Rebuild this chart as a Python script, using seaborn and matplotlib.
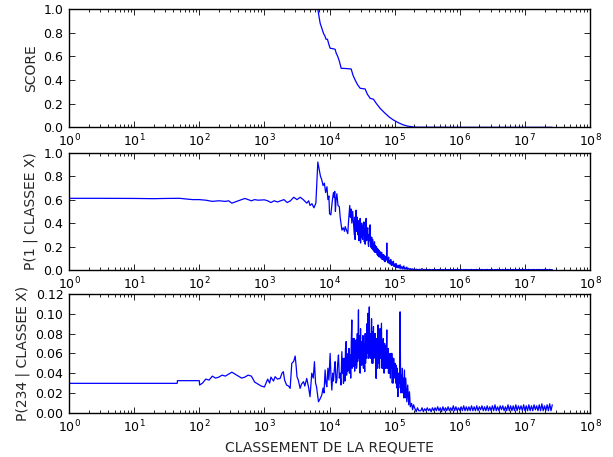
import numpy as np
import pandas as pd
import matplotlib
matplotlib.use("Agg")
import matplotlib.pyplot as plt
import matplotlib.ticker as mticker
import seaborn as sns

# ---------------- data: (log10 of the rank, value) ----------------
score_pts = [(3.78, 1.1), (3.82, 1.0), (3.84, 0.93), (3.856, 0.879), (3.88, 0.84),
             (3.907, 0.794), (3.93, 0.77), (3.945, 0.745), (3.968, 0.744), (3.99, 0.70),
             (4.009, 0.668), (4.05, 0.665), (4.086, 0.659), (4.10, 0.63), (4.127, 0.597),
             (4.15, 0.56), (4.178, 0.499), (4.25, 0.497), (4.332, 0.493), (4.36, 0.44),
             (4.393, 0.40), (4.43, 0.36), (4.47, 0.33), (4.547, 0.324), (4.58, 0.28),
             (4.624, 0.245), (4.675, 0.237), (4.72, 0.20), (4.777, 0.16), (4.85, 0.12),
             (4.92, 0.085), (4.98, 0.062), (5.06, 0.038), (5.135, 0.02), (5.2, 0.01),
             (5.289, 0.003), (5.35, 0.001), (6.0, 0.0), (7.0, 0.0), (7.42, 0.0)]

p1_head = [(0.0, 0.611), (0.5, 0.611), (1.0, 0.61), (1.3, 0.608), (1.5, 0.61),
           (1.7, 0.611), (1.8, 0.605), (1.9, 0.60), (2.0, 0.60), (2.1, 0.595),
           (2.2, 0.585), (2.3, 0.59), (2.4, 0.585), (2.45, 0.59), (2.5, 0.57),
           (2.55, 0.58), (2.6, 0.59), (2.7, 0.61), (2.75, 0.60), (2.8, 0.59),
           (2.85, 0.60), (2.9, 0.595), (3.0, 0.598), (3.05, 0.59), (3.1, 0.575),
           (3.15, 0.59), (3.2, 0.58), (3.25, 0.59), (3.3, 0.60), (3.35, 0.575),
           (3.4, 0.59), (3.45, 0.62), (3.5, 0.60), (3.55, 0.62), (3.6, 0.598),
           (3.65, 0.57), (3.68, 0.59), (3.7, 0.55), (3.73, 0.565), (3.76, 0.53),
           (3.79, 0.57), (3.82, 0.92), (3.86, 0.80), (3.88, 0.77), (3.9, 0.72),
           (3.92, 0.74), (3.94, 0.66), (3.96, 0.71), (3.975, 0.60), (3.99, 0.63),
           (4.0, 0.48), (4.02, 0.47), (4.04, 0.58), (4.06, 0.66), (4.07, 0.62),
           (4.08, 0.67), (4.09, 0.50), (4.10, 0.60), (4.112, 0.65), (4.13, 0.55),
           (4.15, 0.54), (4.163, 0.45), (4.19, 0.34), (4.21, 0.36), (4.23, 0.33),
           (4.24, 0.37), (4.26, 0.34), (4.28, 0.31), (4.29, 0.40), (4.31, 0.55),
           (4.32, 0.45), (4.33, 0.52), (4.342, 0.40), (4.355, 0.50), (4.367, 0.41)]
p1_dense = [(4.380, 0.30), (4.386, 0.45), (4.392, 0.26), (4.400, 0.40), (4.408, 0.51),
            (4.414, 0.33), (4.420, 0.35), (4.427, 0.45), (4.434, 0.30), (4.440, 0.42),
            (4.446, 0.37), (4.452, 0.25), (4.458, 0.38), (4.464, 0.30), (4.470, 0.44),
            (4.476, 0.23), (4.482, 0.36), (4.488, 0.28), (4.494, 0.40), (4.500, 0.33),
            (4.507, 0.26), (4.513, 0.38), (4.520, 0.30), (4.527, 0.41), (4.534, 0.24),
            (4.540, 0.35), (4.547, 0.22), (4.555, 0.36), (4.562, 0.44), (4.568, 0.25),
            (4.575, 0.27), (4.581, 0.34), (4.587, 0.36), (4.594, 0.22), (4.600, 0.20),
            (4.607, 0.30), (4.615, 0.25), (4.623, 0.385), (4.630, 0.22), (4.640, 0.19),
            (4.647, 0.28), (4.655, 0.18), (4.662, 0.26), (4.668, 0.17), (4.674, 0.22),
            (4.681, 0.16), (4.690, 0.24), (4.697, 0.15), (4.704, 0.21), (4.710, 0.15),
            (4.717, 0.20), (4.725, 0.19), (4.732, 0.13), (4.740, 0.18), (4.747, 0.12),
            (4.755, 0.17), (4.762, 0.11), (4.770, 0.16), (4.778, 0.12), (4.785, 0.15),
            (4.792, 0.10), (4.800, 0.15), (4.808, 0.09), (4.815, 0.13), (4.822, 0.10),
            (4.830, 0.13), (4.838, 0.08), (4.845, 0.12), (4.852, 0.07), (4.860, 0.11),
            (4.868, 0.09), (4.875, 0.12), (4.879, 0.23), (4.884, 0.08), (4.892, 0.10),
            (4.900, 0.06), (4.907, 0.11), (4.915, 0.06), (4.922, 0.08), (4.930, 0.05),
            (4.940, 0.09), (4.950, 0.04), (4.960, 0.07), (4.970, 0.04), (4.981, 0.075),
            (4.990, 0.03), (5.000, 0.05), (5.010, 0.025), (5.020, 0.055), (5.030, 0.02),
            (5.040, 0.04), (5.050, 0.02), (5.060, 0.04), (5.070, 0.015), (5.083, 0.045),
            (5.095, 0.01), (5.110, 0.03), (5.125, 0.008), (5.140, 0.035), (5.150, 0.008),
            (5.160, 0.02), (5.175, 0.005), (5.186, 0.025), (5.200, 0.004), (5.215, 0.015),
            (5.230, 0.003), (5.245, 0.012), (5.260, 0.002), (5.275, 0.010), (5.290, 0.003),
            (5.305, 0.008), (5.320, 0.002), (5.340, 0.007), (5.360, 0.001), (5.380, 0.006)]

p234_head = [(0.0, 0.0297), (1.66, 0.0297), (1.665, 0.0324), (2.0, 0.0324), (2.005, 0.028),
             (2.05, 0.030), (2.1, 0.034), (2.15, 0.033), (2.2, 0.037), (2.25, 0.035),
             (2.3, 0.036), (2.35, 0.038), (2.4, 0.037), (2.45, 0.039), (2.5, 0.041),
             (2.55, 0.039), (2.6, 0.037), (2.65, 0.035), (2.7, 0.036), (2.75, 0.038),
             (2.8, 0.037), (2.85, 0.031), (2.9, 0.029), (2.95, 0.027), (3.0, 0.026),
             (3.05, 0.034), (3.08, 0.030), (3.1, 0.036), (3.14, 0.032), (3.164, 0.0364),
             (3.2, 0.034), (3.241, 0.0347), (3.27, 0.040), (3.29, 0.0415), (3.31, 0.033),
             (3.34, 0.028), (3.37, 0.027), (3.395, 0.0246), (3.42, 0.0499), (3.45, 0.052),
             (3.472, 0.0573), (3.49, 0.045), (3.5, 0.0364), (3.52, 0.033), (3.548, 0.0246),
             (3.57, 0.029), (3.6, 0.0314), (3.62, 0.027), (3.65, 0.0347), (3.68, 0.025),
             (3.7, 0.0162), (3.727, 0.040), (3.75, 0.035), (3.768, 0.0516), (3.785, 0.030),
             (3.80, 0.0263), (3.83, 0.0111), (3.855, 0.014), (3.881, 0.0179), (3.9, 0.025),
             (3.915, 0.020), (3.932, 0.0432), (3.945, 0.030), (3.958, 0.0263), (3.975, 0.045),
             (3.99, 0.033), (4.009, 0.060), (4.02, 0.040), (4.035, 0.0229), (4.05, 0.040),
             (4.06, 0.032), (4.075, 0.045), (4.086, 0.0516), (4.1, 0.030), (4.112, 0.033),
             (4.125, 0.050), (4.137, 0.0584), (4.15, 0.035), (4.163, 0.040), (4.175, 0.028),
             (4.189, 0.0617)]
p234_dense = [(4.200, 0.040), (4.207, 0.055), (4.214, 0.0297), (4.222, 0.050), (4.230, 0.055),
              (4.236, 0.032), (4.245, 0.065), (4.255, 0.072), (4.262, 0.038), (4.270, 0.058),
              (4.278, 0.042), (4.285, 0.060), (4.290, 0.0432), (4.298, 0.065), (4.305, 0.040),
              (4.316, 0.0584), (4.325, 0.035), (4.333, 0.070), (4.342, 0.0938), (4.348, 0.045),
              (4.355, 0.050), (4.362, 0.075), (4.367, 0.0466), (4.374, 0.070), (4.380, 0.075),
              (4.386, 0.042), (4.392, 0.068), (4.400, 0.048), (4.408, 0.0736), (4.414, 0.045),
              (4.420, 0.050), (4.426, 0.080), (4.432, 0.052), (4.438, 0.075), (4.444, 0.104),
              (4.450, 0.055), (4.456, 0.078), (4.462, 0.045), (4.470, 0.040), (4.476, 0.085),
              (4.482, 0.050), (4.488, 0.072), (4.494, 0.048), (4.500, 0.067), (4.507, 0.050),
              (4.513, 0.078), (4.520, 0.045), (4.527, 0.070), (4.534, 0.052), (4.540, 0.0415),
              (4.547, 0.080), (4.553, 0.050), (4.560, 0.075), (4.566, 0.055), (4.575, 0.090),
              (4.581, 0.060), (4.587, 0.1005), (4.594, 0.055), (4.600, 0.060), (4.606, 0.085),
              (4.610, 0.107), (4.617, 0.058), (4.625, 0.055), (4.631, 0.080), (4.638, 0.067),
              (4.645, 0.095), (4.652, 0.050), (4.658, 0.082), (4.664, 0.050), (4.674, 0.087),
              (4.680, 0.055), (4.686, 0.080), (4.692, 0.060), (4.700, 0.080), (4.707, 0.050),
              (4.715, 0.0347), (4.722, 0.075), (4.730, 0.070), (4.737, 0.045), (4.745, 0.0888),
              (4.752, 0.050), (4.760, 0.080), (4.767, 0.045), (4.775, 0.085), (4.782, 0.055),
              (4.790, 0.075), (4.797, 0.0905), (4.805, 0.045), (4.812, 0.072), (4.818, 0.045),
              (4.825, 0.075), (4.832, 0.050), (4.837, 0.040), (4.845, 0.070), (4.852, 0.045),
              (4.860, 0.068), (4.866, 0.045), (4.872, 0.060), (4.879, 0.0837), (4.885, 0.045),
              (4.892, 0.050), (4.898, 0.065), (4.905, 0.040), (4.912, 0.060), (4.920, 0.040),
              (4.928, 0.058), (4.935, 0.035), (4.942, 0.060), (4.950, 0.045), (4.956, 0.060),
              (4.963, 0.030), (4.970, 0.055), (4.977, 0.030), (4.985, 0.055), (4.992, 0.035),
              (5.000, 0.0364), (5.007, 0.050), (5.015, 0.030), (5.022, 0.048), (5.030, 0.025),
              (5.040, 0.045), (5.049, 0.0162), (5.056, 0.040), (5.063, 0.025), (5.070, 0.040),
              (5.077, 0.030), (5.083, 0.102), (5.090, 0.040), (5.097, 0.020), (5.104, 0.038),
              (5.110, 0.0246), (5.118, 0.045), (5.125, 0.020), (5.132, 0.035), (5.140, 0.015),
              (5.150, 0.0432), (5.160, 0.015), (5.170, 0.035), (5.186, 0.0111), (5.200, 0.028),
              (5.215, 0.008), (5.227, 0.0212), (5.240, 0.006), (5.260, 0.0094), (5.275, 0.003),
              (5.290, 0.008), (5.310, 0.0043), (5.330, 0.001), (5.350, 0.005), (5.370, 0.002)]

# noisy tail shared by the two lower panels
tail_logx = [5.40, 5.42, 5.44, 5.46, 5.48, 5.50, 5.52, 5.54, 5.56, 5.58,
             5.60, 5.62, 5.64, 5.66, 5.68, 5.70, 5.72, 5.74, 5.76, 5.78,
             5.80, 5.82, 5.84, 5.86, 5.88, 5.90, 5.92, 5.94, 5.96, 5.98,
             6.00, 6.02, 6.04, 6.06, 6.08, 6.10, 6.12, 6.14, 6.16, 6.18,
             6.20, 6.22, 6.24, 6.26, 6.28, 6.30, 6.32, 6.34, 6.36, 6.38,
             6.40, 6.42, 6.44, 6.46, 6.48, 6.50, 6.52, 6.54, 6.56, 6.58,
             6.60, 6.62, 6.64, 6.66, 6.68, 6.70, 6.72, 6.74, 6.76, 6.78,
             6.80, 6.82, 6.84, 6.86, 6.88, 6.90, 6.92, 6.94, 6.96, 6.98,
             7.00, 7.02, 7.04, 7.06, 7.08, 7.10, 7.12, 7.14, 7.16, 7.18,
             7.20, 7.22, 7.24, 7.26, 7.28, 7.30, 7.32, 7.34, 7.36, 7.38,
             7.40, 7.42]
p1_tail = [0.002, 0.012, 0.002, 0.005, 0.001, 0.004, 0.002, 0.005, 0.001, 0.004,
           0.002, 0.005, 0.001, 0.004, 0.002, 0.005, 0.001, 0.004, 0.002, 0.005,
           0.001, 0.004, 0.002, 0.005, 0.001, 0.004, 0.002, 0.005, 0.001, 0.004,
           0.002, 0.005, 0.001, 0.004, 0.002, 0.005, 0.001, 0.004, 0.002, 0.005,
           0.001, 0.004, 0.002, 0.005, 0.001, 0.004, 0.002, 0.005, 0.001, 0.004,
           0.002, 0.005, 0.001, 0.004, 0.002, 0.005, 0.001, 0.004, 0.002, 0.005,
           0.001, 0.004, 0.002, 0.005, 0.001, 0.004, 0.002, 0.005, 0.001, 0.004,
           0.002, 0.005, 0.001, 0.004, 0.002, 0.005, 0.001, 0.004, 0.002, 0.005,
           0.001, 0.004, 0.002, 0.005, 0.001, 0.004, 0.002, 0.005, 0.001, 0.004,
           0.002, 0.005, 0.001, 0.004, 0.002, 0.005, 0.001, 0.004, 0.002, 0.005,
           0.001, 0.004]
p234_tail = [0.002, 0.005, 0.001, 0.004, 0.002, 0.005, 0.002, 0.004, 0.001, 0.005,
             0.002, 0.005, 0.002, 0.006, 0.002, 0.005, 0.001, 0.006, 0.002, 0.005,
             0.002, 0.006, 0.002, 0.005, 0.002, 0.007, 0.002, 0.006, 0.002, 0.005,
             0.002, 0.006, 0.002, 0.007, 0.002, 0.006, 0.002, 0.006, 0.002, 0.007,
             0.002, 0.006, 0.002, 0.007, 0.002, 0.006, 0.003, 0.007, 0.002, 0.006,
             0.002, 0.007, 0.002, 0.006, 0.002, 0.007, 0.002, 0.008, 0.002, 0.006,
             0.002, 0.007, 0.003, 0.007, 0.002, 0.006, 0.002, 0.008, 0.002, 0.007,
             0.002, 0.007, 0.002, 0.008, 0.002, 0.007, 0.003, 0.007, 0.002, 0.008,
             0.002, 0.007, 0.002, 0.008, 0.002, 0.007, 0.002, 0.008, 0.003, 0.007,
             0.002, 0.008, 0.002, 0.009, 0.002, 0.007, 0.002, 0.008, 0.002, 0.009,
             0.002, 0.008]

y_labels = ["SCORE", "P(1 | CLASSEE X)", "P(234 | CLASSEE X)"]
x_label = "CLASSEMENT DE LA REQUETE"
x_major_ticks = [1e0, 1e1, 1e2, 1e3, 1e4, 1e5, 1e6, 1e7, 1e8]
y_limits = [(0.0, 1.0), (0.0, 1.0), (0.0, 0.12)]
y_steps = [0.2, 0.2, 0.02]
y_formats = ["%.1f", "%.1f", "%.2f"]


# ---------------- build frames ----------------
def frame(pts, tail_x=(), tail_y=()):
    lx = [p[0] for p in pts] + list(tail_x)
    vy = [p[1] for p in pts] + list(tail_y)
    return pd.DataFrame({"rank": np.power(10.0, np.array(lx)),
                         "value": np.array(vy)})


frames = [frame(score_pts),
          frame(p1_head + p1_dense, tail_logx, p1_tail),
          frame(p234_head + p234_dense, tail_logx, p234_tail)]

# ---------------- style ----------------
sns.set_style("ticks")
plt.rcParams.update({
    "font.family": ["DejaVu Sans"],
    "xtick.direction": "in", "ytick.direction": "in",
    "xtick.top": True, "ytick.right": True,
    "xtick.major.size": 4, "ytick.major.size": 4,
    "xtick.minor.size": 2, "ytick.minor.size": 2,
    "xtick.major.width": 0.6, "ytick.major.width": 0.6,
    "xtick.minor.width": 0.6, "ytick.minor.width": 0.6,
    "xtick.color": "black", "ytick.color": "black",
    "axes.edgecolor": "black", "axes.linewidth": 1.0,
    "xtick.labelsize": 9, "ytick.labelsize": 9,
    "axes.labelsize": 10,
    "xtick.major.pad": 4, "ytick.major.pad": 4,
})

fig = plt.figure(figsize=(6.13, 4.57), dpi=100)
rects = [(0.1126, 0.7214, 0.850, 0.2589),
         (0.1126, 0.4092, 0.850, 0.2567),
         (0.1126, 0.0969, 0.850, 0.2597)]

for i, (df, rect) in enumerate(zip(frames, rects)):
    ax = fig.add_axes(rect)
    sns.lineplot(data=df, x="rank", y="value", ax=ax, color="#0000ff",
                 linewidth=0.9, estimator=None, sort=False)
    ax.set_xscale("log")
    ax.set_xlim(1, 1e8)
    ax.set_ylim(*y_limits[i])
    ax.xaxis.set_major_locator(mticker.FixedLocator(x_major_ticks))
    ax.xaxis.set_major_formatter(mticker.LogFormatterMathtext(base=10))
    ax.xaxis.set_minor_locator(mticker.LogLocator(base=10, subs=np.arange(2, 10), numticks=20))
    ax.xaxis.set_minor_formatter(mticker.NullFormatter())
    ax.yaxis.set_major_locator(mticker.MultipleLocator(y_steps[i]))
    ax.yaxis.set_major_formatter(mticker.FormatStrFormatter(y_formats[i]))
    ax.tick_params(which="both", top=True, right=True, direction="in")
    ax.set_ylabel(y_labels[i])
    if i == 2:
        ax.set_xlabel(x_label)
    else:
        ax.set_xlabel(None)
    for s in ax.spines.values():
        s.set_visible(True)

fig.savefig("out.png", dpi=100)
